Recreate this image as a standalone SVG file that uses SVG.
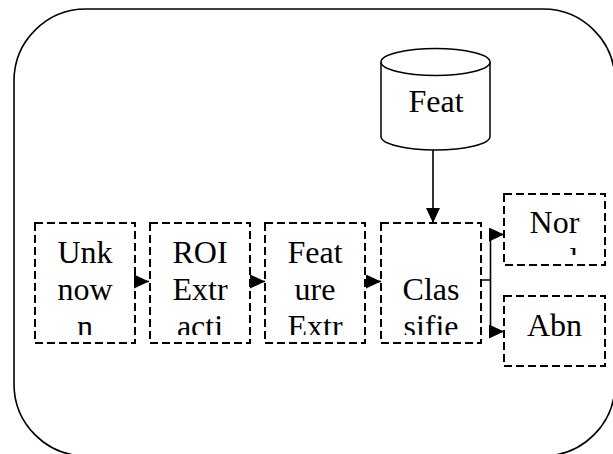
<svg xmlns="http://www.w3.org/2000/svg" width="613" height="454" viewBox="0 0 613 454">
<style>
.frame{fill:none;stroke:#000;stroke-width:1.6}
.box{fill:none;stroke:#000;stroke-width:2;stroke-dasharray:8 4}
.cyl{fill:#fff;stroke:#000;stroke-width:1.5}
.lbl{font-family:"Liberation Serif","Times New Roman",serif;font-size:32px;fill:#000;text-anchor:middle}
.conn{fill:none;stroke:#000;stroke-width:1.6}
</style>
<defs>
<marker id="ah" markerUnits="userSpaceOnUse" markerWidth="15" markerHeight="14" refX="15" refY="7" orient="auto">
<path d="M0,0 L15,7 L0,14 z" fill="#000"/>
</marker>
<clipPath id="c1"><rect x="35" y="223" width="100" height="112"/></clipPath>
<clipPath id="c2"><rect x="150" y="223" width="100" height="112"/></clipPath>
<clipPath id="c3"><rect x="265" y="223" width="100" height="112"/></clipPath>
<clipPath id="c4"><rect x="381" y="223" width="100" height="112"/></clipPath>
<clipPath id="c5"><rect x="504" y="194" width="101" height="61"/></clipPath>
<clipPath id="c6"><rect x="504" y="296" width="101" height="60"/></clipPath>
</defs>
<rect class="frame" x="14" y="9" width="601" height="447" rx="72" ry="72"/>
<g id="features">
<path class="cyl" d="M381,62 A54.5,13.5 0 0 1 490,62 L490,136.5 A54.5,13.5 0 0 1 381,136.5 Z"/>
<path class="cyl" d="M381,62 A54.5,13.5 0 0 0 490,62" fill="none"/>
<text class="lbl" x="436" y="112">Feat</text>
</g>
<g id="unknown">
<rect class="box" x="35" y="223" width="100" height="120"/>
<g clip-path="url(#c1)"><text class="lbl" x="85" y="263">Unk</text><text class="lbl" x="85" y="300">now</text><text class="lbl" x="85" y="337">n</text></g>
</g>
<g id="roi">
<rect class="box" x="150" y="223" width="100" height="120"/>
<g clip-path="url(#c2)"><text class="lbl" x="200" y="263">ROI</text><text class="lbl" x="200" y="300">Extr</text><text class="lbl" x="200" y="337">acti</text></g>
</g>
<g id="feature-extraction">
<rect class="box" x="265" y="223" width="100" height="120"/>
<g clip-path="url(#c3)"><text class="lbl" x="315" y="263">Feat</text><text class="lbl" x="315" y="300">ure</text><text class="lbl" x="315" y="337">Extr</text></g>
</g>
<g id="classifier">
<rect class="box" x="381" y="223" width="100" height="120"/>
<g clip-path="url(#c4)"><text class="lbl" x="431" y="300">Clas</text><text class="lbl" x="431" y="337">sifie</text></g>
</g>
<g id="normal">
<rect class="box" x="504" y="194" width="101" height="71"/>
<g clip-path="url(#c5)"><text class="lbl" x="554.5" y="233">Nor</text><text class="lbl" x="554.5" y="270">mal</text></g>
</g>
<g id="abnormal">
<rect class="box" x="504" y="296" width="101" height="70"/>
<g clip-path="url(#c6)"><text class="lbl" x="554.5" y="336">Abn</text></g>
</g>
<g id="connectors">
<line class="conn" x1="433" y1="150" x2="433" y2="223" marker-end="url(#ah)"/>
<line class="conn" x1="135" y1="281.5" x2="149" y2="281.5" marker-end="url(#ah)"/>
<line class="conn" x1="250" y1="281.5" x2="265" y2="281.5" marker-end="url(#ah)"/>
<line class="conn" x1="365" y1="281.5" x2="381" y2="281.5" marker-end="url(#ah)"/>
<path class="conn" d="M481,280 H490.5 M490.5,234.5 V331.5"/>
<line class="conn" x1="490.5" y1="234.5" x2="504" y2="234.5" marker-end="url(#ah)"/>
<line class="conn" x1="490.5" y1="331.5" x2="504" y2="331.5" marker-end="url(#ah)"/>
</g>
</svg>
